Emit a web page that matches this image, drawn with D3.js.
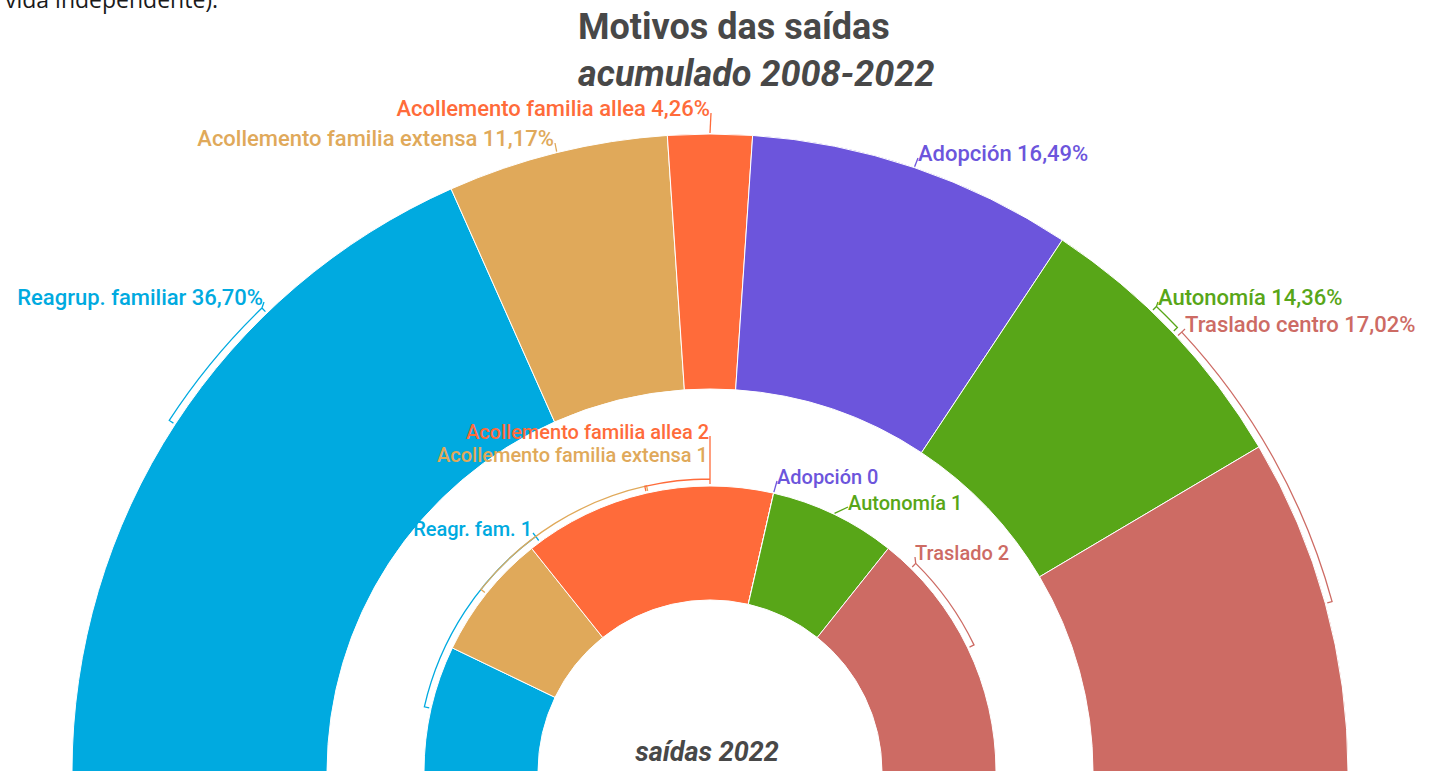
<!DOCTYPE html>
<html>
<head>
<meta charset="utf-8">
<script src="https://cdn.jsdelivr.net/npm/d3@7"></script>
<style>
  body { margin: 0; background: #fff; }
  svg { display: block; }
  .lbl { font-family: Roboto, sans-serif; font-weight: 500; }
</style>
</head>
<body>
<div id="chart"></div>
<script>
// Motivos das saídas - two half donuts
var width = 1430;
var height = 771;

// data
var outerNames = ["Reagrup. familiar", "Acollemento familia extensa", "Acollemento familia allea", "Adopción", "Autonomía", "Traslado centro"];
var outerValues = [36.70, 11.17, 4.26, 16.49, 14.36, 17.02];
var innerNames = ["Reagr. fam.", "Acollemento familia extensa", "Acollemento familia allea", "Adopción", "Autonomía", "Traslado"];
var innerValues = [1, 1, 2, 0, 1, 2];
var colors = ["#00aae0", "#e0a95a", "#ff6b3a", "#6c55dc", "#58a618", "#cd6b64"];

// label layout (connection angle in degrees, null = slice middle; text position)
var outerLayout = [
  { conn: -44, x: 263, y: 305, anchor: "end" },
  { conn: null, x: 554, y: 146, anchor: "end" },
  { conn: null, x: 710, y: 116, anchor: "end" },
  { conn: null, x: 918, y: 161, anchor: "start" },
  { conn: 43.8, x: 1158, y: 305, anchor: "start" },
  { conn: 47, x: 1185, y: 332, anchor: "start" }
];
var innerLayout = [
  { conn: -36.5, x: 532, y: 536, anchor: "end" },
  { conn: -12.5, x: 708, y: 462, anchor: "end", noLeader: true },
  { conn: 0, x: 709, y: 439, anchor: "end" },
  { conn: null, x: 777, y: 484, anchor: "start" },
  { conn: null, x: 848, y: 510, anchor: "start" },
  { conn: 44.6, x: 915, y: 560, anchor: "start" }
];

var cx = 710, cy = 772;
var outerR = [383, 638];
var innerR = [172, 286];

var svg = d3.select("#chart").append("svg")
  .attr("width", width)
  .attr("height", height);

// leftover text from the page above
svg.append("text")
  .attr("x", 5)
  .attr("y", 8)
  .style("font-family", "'Open Sans', sans-serif")
  .style("font-size", "23px")
  .attr("fill", "#1a1a1a")
  .text("vida independente).");

// titles
svg.append("text")
  .attr("x", 578).attr("y", 39)
  .style("font-family", "Roboto, sans-serif")
  .style("font-size", "36px").style("font-weight", "bold")
  .attr("fill", "#484848")
  .text("Motivos das saídas");
svg.append("text")
  .attr("x", 578).attr("y", 86)
  .style("font-family", "Roboto, sans-serif")
  .style("font-size", "36px").style("font-weight", "bold").style("font-style", "italic")
  .attr("fill", "#484848")
  .text("acumulado 2008-2022");

var pie = d3.pie().sort(null).startAngle(-Math.PI / 2).endAngle(Math.PI / 2);
var g = svg.append("g").attr("transform", "translate(" + cx + "," + cy + ")");

function fmt(v) {
  return v.toFixed(2).replace(".", ",") + "%";
}

function ring(values, names, radii, layout, pct, fontSize) {
  var arcs = pie(values);
  var arc = d3.arc().innerRadius(radii[0]).outerRadius(radii[1]);

  g.append("g").selectAll("path")
    .data(arcs)
    .enter()
    .append("path")
    .attr("d", arc)
    .attr("fill", function(d, i) { return colors[i]; })
    .attr("stroke", "#fff")
    .attr("stroke-width", 1);

  var r = radii[1];
  var rt = r + 2, rb = r + 7;
  function pt(rad, a) { return [rad * Math.sin(a), -rad * Math.cos(a)]; }

  arcs.forEach(function(d, i) {
    var lay = layout[i];
    var mid = (d.startAngle + d.endAngle) / 2;
    var conn = lay.conn === null ? mid : lay.conn * Math.PI / 180;
    var col = colors[i];
    var path = d3.path();
    var p;
    if (lay.conn !== null) {
      // bracket from the middle of the slice to the label side
      p = pt(rt, mid); path.moveTo(p[0], p[1]);
      p = pt(rb, mid); path.lineTo(p[0], p[1]);
      path.arc(0, 0, rb, mid - Math.PI / 2, conn - Math.PI / 2, conn < mid);
      p = pt(rt, conn); path.lineTo(p[0], p[1]);
      p = pt(rb, conn); path.moveTo(p[0], p[1]);
    } else {
      p = pt(r + 1, conn); path.moveTo(p[0], p[1]);
    }
    if (!lay.noLeader) {
      path.lineTo(lay.x - cx + (lay.anchor === "end" ? 1 : 0), lay.y - cy - 3);
    }
    g.append("path")
      .attr("d", path.toString())
      .attr("fill", "none")
      .attr("stroke", col)
      .attr("stroke-width", 1.3);

    svg.append("text")
      .attr("class", "lbl")
      .attr("x", lay.x)
      .attr("y", lay.y)
      .attr("text-anchor", lay.anchor)
      .style("font-size", fontSize + "px")
      .attr("fill", col)
      .text(names[i] + " " + (pct ? fmt(d.data) : d.data));
  });
}

ring(outerValues, outerNames, outerR, outerLayout, true, 22);
ring(innerValues, innerNames, innerR, innerLayout, false, 20);

svg.append("text")
  .attr("x", 707).attr("y", 761)
  .attr("text-anchor", "middle")
  .style("font-family", "Roboto, sans-serif")
  .style("font-size", "27px").style("font-weight", "bold").style("font-style", "italic")
  .attr("fill", "#484848")
  .text("saídas 2022");
</script>
</body>
</html>
